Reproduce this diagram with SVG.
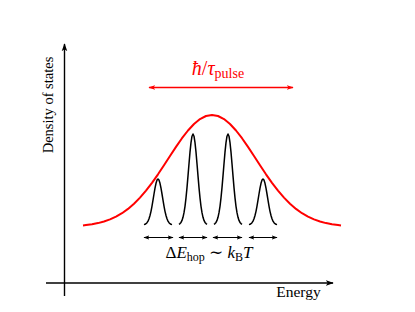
<svg xmlns="http://www.w3.org/2000/svg" width="415" height="312" viewBox="0 0 415 312">
<style>
.ax{stroke:#000;stroke-width:1.4;fill:none}
.pk{stroke:#000;stroke-width:1.5;fill:none;stroke-linejoin:round}
.dos{stroke:#ff0000;stroke-width:2;fill:none;stroke-linejoin:round}
.da{stroke:#000;stroke-width:1;fill:none}
.ra{stroke:#ff0000;stroke-width:1.3;fill:none}
text{font-family:"Liberation Serif","DejaVu Serif",serif}
.lbl{fill:#000}
.m{font-style:italic}
</style>
<defs>
<marker id="ah" viewBox="0 0 10 10" refX="9" refY="5" markerWidth="6" markerHeight="6" orient="auto-start-reverse" markerUnits="userSpaceOnUse">
<path d="M0,1.5 L10,5 L0,8.5 L2.5,5 Z" fill="#000"/>
</marker>
<marker id="ahr" viewBox="0 0 10 10" refX="9" refY="5" markerWidth="7" markerHeight="7" orient="auto-start-reverse" markerUnits="userSpaceOnUse">
<path d="M0,1.5 L10,5 L0,8.5 L2.5,5 Z" fill="#ff0000"/>
</marker>
<marker id="axh" viewBox="0 0 10 10" refX="9" refY="5" markerWidth="8" markerHeight="8" orient="auto" markerUnits="userSpaceOnUse">
<path d="M0,1.5 L10,5 L0,8.5 L2.5,5 Z" fill="#000"/>
</marker>
<path id="small" d="M-14,-0.4 L-13,-0.7 L-12,-1.3 L-11,-2.3 L-10,-3.9 L-9,-6.2 L-8,-9.5 L-7,-13.7 L-6,-18.9 L-5,-24.8 L-4,-31 L-3,-36.8 L-2,-41.7 L-1,-44.9 L0,-46 L1,-44.9 L2,-41.7 L3,-36.8 L4,-31 L5,-24.8 L6,-18.9 L7,-13.7 L8,-9.5 L9,-6.2 L10,-3.9 L11,-2.3 L12,-1.3 L13,-0.7 L14,-0.4"/>
<path id="large" d="M-14,-0.7 L-13,-1.4 L-12,-2.6 L-11,-4.6 L-10,-7.7 L-9,-12.3 L-8,-18.7 L-7,-27.1 L-6,-37.4 L-5,-49.1 L-4,-61.3 L-3,-72.9 L-2,-82.4 L-1,-88.8 L0,-91 L1,-88.8 L2,-82.4 L3,-72.9 L4,-61.3 L5,-49.1 L6,-37.4 L7,-27.1 L8,-18.7 L9,-12.3 L10,-7.7 L11,-4.6 L12,-2.6 L13,-1.4 L14,-0.7"/>
</defs>
<rect width="415" height="312" fill="#fff"/>

<g id="axes">
<line class="ax" x1="64.5" y1="296" x2="64.5" y2="44" marker-end="url(#axh)"/>
<line class="ax" x1="46" y1="283" x2="333" y2="283" marker-end="url(#axh)"/>
</g>

<g id="dos-curve">
<path class="dos" d="M83,225.5 L86,225.1 L92,224.3 L98,223.1 L104,221.5 L110,219.4 L116,216.6 L122,213.2 L128,208.9 L134,203.7 L140,197.6 L146,190.6 L152,182.8 L158,174.3 L164,165.2 L170,156 L176,146.9 L182,138.2 L188,130.5 L194,124 L200,119.1 L206,116 L212,115 L218,116 L224,119.1 L230,124 L236,130.5 L242,138.2 L248,146.9 L254,156 L260,165.2 L266,174.3 L272,182.8 L278,190.6 L284,197.6 L290,203.7 L296,208.9 L302,213.2 L308,216.6 L314,219.4 L320,221.5 L326,223.1 L332,224.3 L338,225.1 L341,225.5"/>
</g>

<g id="peak1"><use href="#small" class="pk" transform="translate(158,225)"/></g>
<g id="peak2"><use href="#large" class="pk" transform="translate(193,225)"/></g>
<g id="peak3"><use href="#large" class="pk" transform="translate(228,225)"/></g>
<g id="peak4"><use href="#small" class="pk" transform="translate(263,225)"/></g>

<g id="connectors">
<line class="ra" x1="149" y1="87.5" x2="293" y2="87.5" marker-start="url(#ahr)" marker-end="url(#ahr)"/>
<line class="da" x1="144" y1="237.5" x2="173" y2="237.5" marker-start="url(#ah)" marker-end="url(#ah)"/>
<line class="da" x1="179" y1="237.5" x2="207" y2="237.5" marker-start="url(#ah)" marker-end="url(#ah)"/>
<line class="da" x1="213" y1="237.5" x2="242" y2="237.5" marker-start="url(#ah)" marker-end="url(#ah)"/>
<line class="da" x1="249" y1="237.5" x2="277" y2="237.5" marker-start="url(#ah)" marker-end="url(#ah)"/>
</g>

<g id="labels">
<text x="218" y="75" text-anchor="middle" fill="#ff0000" font-size="20"><tspan class="m">ħ</tspan>/<tspan class="m">τ</tspan><tspan font-size="14" dy="3">pulse</tspan></text>
<text x="209" y="258" text-anchor="middle" font-size="17" fill="#000">Δ<tspan class="m">E</tspan><tspan font-size="12" dy="3">hop</tspan><tspan dy="-3"> ∼ </tspan><tspan class="m">k</tspan><tspan font-size="12" dy="3">B</tspan><tspan class="m" dy="-3">T</tspan></text>
<text class="lbl" x="298.5" y="297" text-anchor="middle" font-size="15.5">Energy</text>
<text class="lbl" transform="translate(53,105) rotate(-90)" text-anchor="middle" font-size="14.5">Density of states</text>
</g>
</svg>
